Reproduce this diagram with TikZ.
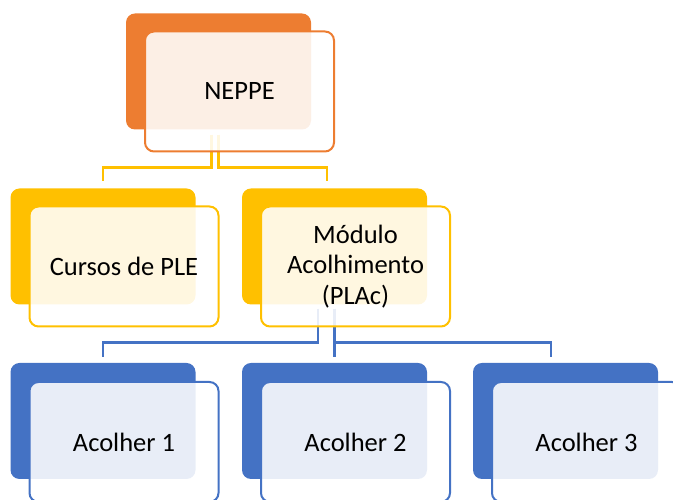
\documentclass[tikz,border=0pt]{standalone}
\usepackage{fontspec}
\setmainfont{Carlito}
\usetikzlibrary{backgrounds}
\definecolor{OrangeClr}{HTML}{ED7D31}
\definecolor{GoldClr}{HTML}{FFC000}
\definecolor{BlueClr}{HTML}{4472C4}

\begin{document}
\begin{tikzpicture}[x=1pt,y=1pt,
  back/.style={minimum width=185pt,minimum height=116pt,inner sep=0pt,rounded corners=9pt,fill=#1},
  front/.style={minimum width=189pt,minimum height=120pt,inner sep=0pt,rounded corners=9pt,
    draw=#1,line width=2pt,fill=white,fill opacity=0.88,text opacity=1,align=center,
    font=\fontsize{26.5}{30.5}\selectfont},
  link/.style={draw=#1,line width=2.4pt}]
\useasboundingbox (0,0) rectangle (673,500);

\node[back=OrangeClr] (neppeBack) at (218.5,428.5) {};
\node[front=OrangeClr] (neppe) at ([shift={(21,-20)}]neppeBack) {NEPPE};

\node[back=GoldClr] (cursosBack) at (103,253.5) {};
\node[front=GoldClr] (cursos) at ([shift={(21,-20)}]cursosBack) {Cursos de PLE};
\node[back=GoldClr] (moduloBack) at (334.5,253.5) {};
\node[front=GoldClr] (modulo) at ([shift={(21,-20)}]moduloBack) {Módulo\\Acolhimento\\(PLAc)};

\node[back=BlueClr] (acolherBack1) at (103,79) {};
\node[front=BlueClr] (acolher1) at ([shift={(21,-21)}]acolherBack1) {Acolher 1};
\node[back=BlueClr] (acolherBack2) at (334.5,79) {};
\node[front=BlueClr] (acolher2) at ([shift={(21,-21)}]acolherBack2) {Acolher 2};
\node[back=BlueClr] (acolherBack3) at (565.5,79) {};
\node[front=BlueClr] (acolher3) at ([shift={(21,-21)}]acolherBack3) {Acolher 3};

% connectors behind the boxes
\begin{scope}[on background layer]
\draw[link=GoldClr] ([shift={(-7,-5)}]neppeBack.south) -- ++(0,-33) -| ([yshift=7]cursosBack.north);
\draw[link=GoldClr] ([yshift=-5]neppeBack.south) -- ++(0,-33) -| ([shift={(-7.5,7)}]moduloBack.north);

\draw[link=BlueClr] ([shift={(-16.5,-4)}]moduloBack.south) -- ++(0,-34) -| ([yshift=6]acolherBack1.north);
\draw[link=BlueClr] ([yshift=-4]moduloBack.south) -- ([yshift=6]acolherBack2.north);
\draw[link=BlueClr] ([yshift=-4]moduloBack.south) -- ++(0,-34) -| ([shift={(-14.5,6)}]acolherBack3.north);
\end{scope}
\end{tikzpicture}
\end{document}
